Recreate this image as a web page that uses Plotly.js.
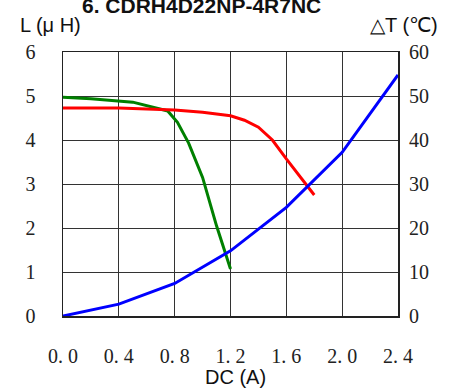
<!DOCTYPE html>
<html><head><meta charset="utf-8">
<script src="https://cdn.plot.ly/plotly-3.0.1.min.js"></script>
<style>html,body{margin:0;padding:0;background:#fff}</style>
</head><body>
<div id="chart" style="width:458px;height:390px"></div>
<script>
// Inductance vs DC (green, saturation curve)
const greenX = [0, 0.2, 0.5, 0.75, 0.82, 0.9, 1.0, 1.1, 1.2];
const greenL = [4.97, 4.94, 4.86, 4.66, 4.40, 3.93, 3.15, 2.05, 1.07];
// Inductance vs DC (red)
const redX = [0, 0.4, 0.8, 1.0, 1.2, 1.3, 1.4, 1.5, 1.6, 1.8];
const redL = [4.73, 4.73, 4.68, 4.63, 4.55, 4.45, 4.29, 4.0, 3.57, 2.75];
// Temperature rise vs DC (blue)
const blueX = [0, 0.4, 0.8, 1.2, 1.6, 2.0, 2.4];
const blueT = [0, 2.7, 7.4, 14.8, 24.7, 37.2, 54.8];

const xTickVals = [0, 0.4, 0.8, 1.2, 1.6, 2.0, 2.4];
const xTickText = ["0. 0", "0. 4", "0. 8", "1. 2", "1. 6", "2. 0", "2. 4"];
const yTickVals = [0, 1, 2, 3, 4, 5, 6];
const y2TickVals = [0, 10, 20, 30, 40, 50, 60];

const chartTitle = "6. CDRH4D22NP-4R7NC";
const yTitle = "L (\u03bc H)";
const y2Title = "\u25b3T (\u2103)";
const xTitle = "DC (A)";

const tickFont = {family: "Liberation Serif, serif", size: 20, color: "#222"};
const sans = "Liberation Sans, Arial, sans-serif";

const traces = [
  {x: greenX, y: greenL, mode: "lines", line: {color: "#008000", width: 3}, yaxis: "y"},
  {x: redX, y: redL, mode: "lines", line: {color: "#ff0000", width: 3}, yaxis: "y"},
  {x: blueX, y: blueT, mode: "lines", line: {color: "#0000ff", width: 3}, yaxis: "y2"}
];

const layout = {
  width: 458, height: 390,
  margin: {l: 63, r: 60, t: 52, b: 74},
  showlegend: false,
  paper_bgcolor: "#fff", plot_bgcolor: "#fff",
  xaxis: {
    range: [0, 2.4], tickvals: xTickVals, ticktext: xTickText,
    showgrid: true, gridcolor: "#333", gridwidth: 1,
    showline: true, linecolor: "#222", linewidth: 1.5, mirror: true,
    ticks: "", tickfont: tickFont, ticklabelstandoff: 21, zeroline: false
  },
  yaxis: {
    range: [0, 6], tickvals: yTickVals,
    showgrid: true, gridcolor: "#333", gridwidth: 1,
    showline: true, linecolor: "#222", linewidth: 1.5, mirror: true,
    ticks: "", tickfont: tickFont, ticklabelstandoff: 22, zeroline: false
  },
  yaxis2: {
    range: [0, 60], tickvals: y2TickVals, overlaying: "y", side: "right",
    showgrid: false, showline: false, ticks: "", tickfont: tickFont,
    ticklabelstandoff: 10, zeroline: false
  },
  annotations: [
    {text: "<b>" + chartTitle + "</b>", xref: "paper", yref: "paper", x: 0.414, y: 1.178,
     xanchor: "center", yanchor: "middle", showarrow: false, font: {family: sans, size: 21, color: "#111"}},
    {text: yTitle, xref: "paper", yref: "paper", x: -0.036, y: 1.102,
     xanchor: "center", yanchor: "middle", showarrow: false, font: {family: sans, size: 20, color: "#111"}},
    {text: y2Title, xref: "paper", yref: "paper", x: 1.019, y: 1.102,
     xanchor: "center", yanchor: "middle", showarrow: false, font: {family: sans, size: 20, color: "#111"}},
    {text: xTitle, xref: "paper", yref: "paper", x: 0.516, y: -0.231,
     xanchor: "center", yanchor: "middle", showarrow: false, font: {family: sans, size: 20, color: "#111"}}
  ]
};

Plotly.newPlot("chart", traces, layout, {displayModeBar: false, staticPlot: true});
</script>
</body></html>
